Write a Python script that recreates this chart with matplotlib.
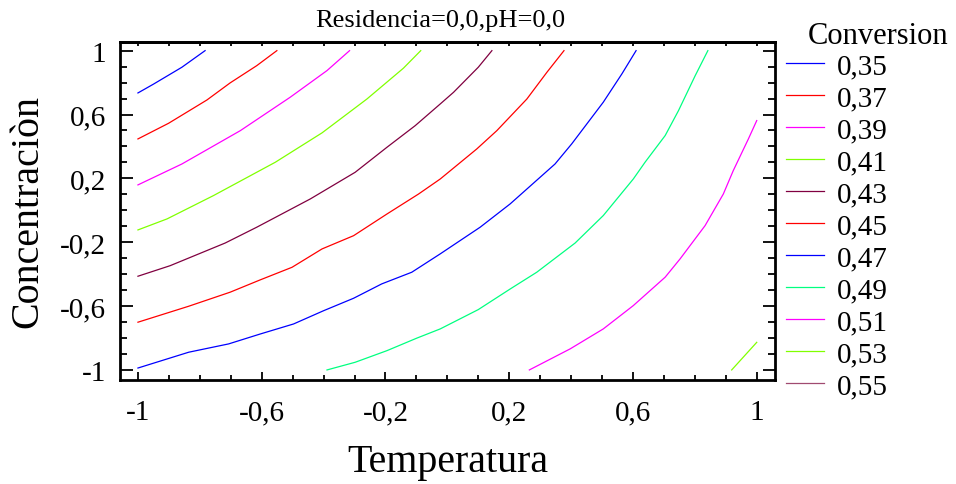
import numpy as np
import matplotlib
matplotlib.use("Agg")
from matplotlib import pyplot as plt
from matplotlib.ticker import FixedLocator, MultipleLocator

plt.rcParams['font.family'] = ['Liberation Serif', 'DejaVu Serif']

# contour levels and legend
levels = [0.35, 0.37, 0.39, 0.41, 0.43, 0.45, 0.47, 0.49, 0.51, 0.53, 0.55]
level_labels = ['0,35', '0,37', '0,39', '0,41', '0,43', '0,45', '0,47', '0,49', '0,51', '0,53', '0,55']
level_colors = ['#0000ff', '#ff0000', '#ff00ff', '#80ff00', '#800040', '#ff0000',
                '#0000ff', '#00ff80', '#ff00ff', '#80ff00', '#a04a70']

# contour lines (Temperatura, Concentracion)
temp_035 = [-1.0, -0.95, -0.858, -0.783]
conc_035 = [0.735, 0.79, 0.896, 1.0]

temp_037 = [-1.0, -0.901, -0.777, -0.702, -0.616, -0.551]
conc_037 = [0.447, 0.545, 0.691, 0.798, 0.906, 1.0]

temp_039 = [-1.0, -0.858, -0.669, -0.508, -0.389, -0.316]
conc_039 = [0.159, 0.29, 0.499, 0.708, 0.875, 1.0]

temp_041 = [-1.0, -0.906, -0.756, -0.556, -0.405, -0.26, -0.142, -0.086]
conc_041 = [-0.123, -0.054, 0.092, 0.301, 0.485, 0.697, 0.89, 1.0]

temp_043 = [-1.0, -0.896, -0.718, -0.616, -0.443, -0.298, -0.195, -0.104, -0.023, 0.02, 0.1, 0.144]
conc_043 = [-0.413, -0.347, -0.205, -0.106, 0.071, 0.238, 0.395, 0.53, 0.666, 0.739, 0.896, 1.0]

temp_045 = [-1.0, -0.836, -0.702, -0.605, -0.502, -0.405, -0.303, -0.195, -0.093,
            -0.023, 0.095, 0.16, 0.257, 0.322, 0.377]
conc_045 = [-0.701, -0.601, -0.513, -0.436, -0.357, -0.242, -0.159, -0.023, 0.102,
            0.196, 0.384, 0.499, 0.697, 0.865, 1.0]

temp_047 = [-1.0, -0.836, -0.707, -0.605, -0.497, -0.4, -0.303, -0.212, -0.115, -0.023,
            0.106, 0.203, 0.348, 0.402, 0.504, 0.564, 0.61]
conc_047 = [-0.988, -0.889, -0.837, -0.775, -0.712, -0.629, -0.551, -0.461, -0.388, -0.273,
            -0.106, 0.04, 0.29, 0.416, 0.677, 0.854, 1.0]

temp_049 = [-0.389, -0.298, -0.195, -0.099, -0.023, 0.1, 0.203, 0.289, 0.413, 0.504,
            0.601, 0.639, 0.704, 0.747, 0.801, 0.842]
conc_049 = [-1.0, -0.952, -0.879, -0.801, -0.743, -0.622, -0.493, -0.388, -0.205, -0.033,
            0.196, 0.301, 0.468, 0.624, 0.843, 1.0]

temp_051 = [0.265, 0.397, 0.504, 0.601, 0.704, 0.752, 0.833, 0.892, 0.924, 0.973, 1.0]
conc_051 = [-1.0, -0.868, -0.743, -0.597, -0.419, -0.305, -0.096, 0.102, 0.248, 0.447, 0.562]

temp_053 = [0.919, 1.0]
conc_053 = [-1.0, -0.827]

temp_055 = []
conc_055 = []

temp_lines = [temp_035, temp_037, temp_039, temp_041, temp_043, temp_045,
              temp_047, temp_049, temp_051, temp_053, temp_055]
conc_lines = [conc_035, conc_037, conc_039, conc_041, conc_043, conc_045,
              conc_047, conc_049, conc_051, conc_053, conc_055]

major_ticks = [-1, -0.6, -0.2, 0.2, 0.6, 1]
major_labels = ['-1', '-0,6', '-0,2', '0,2', '0,6', '1']

W, H = 956, 485
fig = plt.figure(figsize=(W / 100, H / 100), dpi=100)
ax = fig.add_axes([120 / W, 1 - 381 / H, 655 / W, 338.3 / H])

for t, c, col, lab in zip(temp_lines, conc_lines, level_colors, level_labels):
    ax.plot(t, c, color=col, lw=0.9, label=lab)

ax.set_xlim(-1.058, 1.059)
ax.set_ylim(-1.063, 1.056)

ax.xaxis.set_major_locator(FixedLocator(major_ticks))
ax.xaxis.set_minor_locator(MultipleLocator(0.1))
ax.yaxis.set_major_locator(FixedLocator(major_ticks))
ax.yaxis.set_minor_locator(MultipleLocator(0.1))
ax.set_xticklabels(major_labels)
ax.set_yticklabels(major_labels)

ax.tick_params(axis='both', which='both', direction='in', top=False, right=True,
               labelsize=21, width=1.3)
ax.tick_params(axis='x', which='major', length=6, pad=14)
ax.tick_params(axis='x', which='minor', length=3.5)
ax.tick_params(axis='y', which='major', length=9, pad=10)
ax.tick_params(axis='y', which='minor', length=5)

# top ticks are all short
top = ax.secondary_xaxis('top')
top.set_xticks(np.arange(-1, 1.01, 0.1))
top.tick_params(direction='in', length=3, width=1.3, labeltop=False)

for sp in ax.spines.values():
    sp.set_linewidth(2)
top.spines['top'].set_linewidth(2)

ax.set_xlabel('Temperatura', fontsize=28.8, labelpad=13)
ax.set_ylabel('Concentraciòn', fontsize=28.8, labelpad=10)

fig.text(440 / W, 1 - 27 / H, 'Residencia=0,0,pH=0,0', fontsize=19,
         ha='center', va='baseline')

fig.text(808 / W, 1 - 36 / H, 'Conversion', fontsize=22, ha='left', va='center')
fig.legend(loc='upper left', bbox_to_anchor=(786 / W, 1 - 54 / H), frameon=False,
           fontsize=21, handlelength=1.3, handletextpad=0.45, labelspacing=0.19,
           borderpad=0, borderaxespad=0)

fig.savefig('out.png', dpi=100)
